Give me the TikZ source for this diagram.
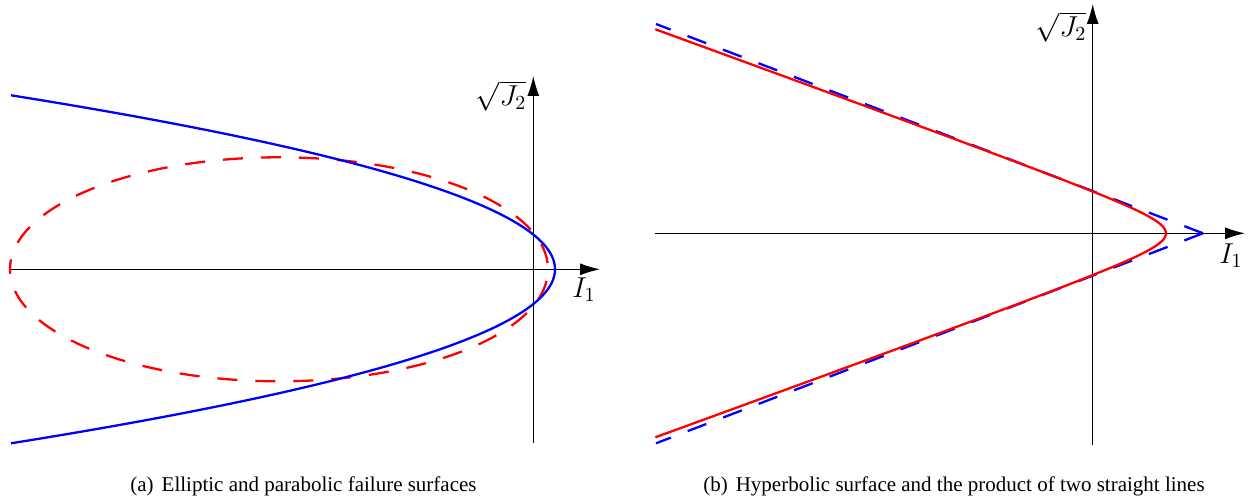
\documentclass[tikz,border=0pt]{standalone}
\usepackage{fontspec}
\usetikzlibrary{arrows.meta}
\newfontfamily\capfont{Liberation Serif}
\begin{document}
\begin{tikzpicture}[x=0.5pt,y=-0.5pt,
  axis/.style={draw=black,line width=0.55pt,-{Latex[length=10pt,width=6pt]}},
  curve/.style={line width=1.15pt},
  dashcurve/.style={line width=1.15pt,dash pattern=on 10pt off 9pt},
  lbl/.style={inner sep=0pt,font=\fontsize{14}{16}\selectfont},
  captxt/.style={inner sep=0pt,anchor=base,font=\capfont\fontsize{10.5}{12}\selectfont}]
\useasboundingbox (0,0) rectangle (1253,501);
% ---------- (a) ----------
\coordinate (aL) at (10,269.3);
\coordinate (aR) at (600,269.3);
\coordinate (aB) at (533.3,443);
\coordinate (aT) at (533.3,76);
\draw[axis] (aL) -- (aR);
\draw[axis] (aB) -- (aT);
\coordinate (eL) at (10,269.3);
\draw[red,dashcurve,dash phase=5pt] (eL) arc[start angle=180,end angle=-180,x radius=134.5pt,y radius=56pt];
\draw[blue,curve] plot[domain=-174:174,samples=120,smooth] ({555-544*(\x/174)^2},{269.3+\x});
\node[lbl] (aJ) at (501,96) {$\sqrt{J_2}$};
\node[lbl] (aI) at (584,290) {$I_1$};
\node[captxt] (capa) at (303.5,492) {(a)\hspace{4pt}Elliptic and parabolic failure surfaces};
% ---------- (b) ----------
\coordinate (bL) at (655,233.3);
\coordinate (bR) at (1245,233.3);
\coordinate (bB) at (1092.7,445);
\coordinate (bT) at (1092.7,4);
\draw[axis] (bL) -- (bR);
\draw[axis] (bB) -- (bT);
\coordinate (p1) at (656,24);
\coordinate (p2) at (1203,233.3);
\coordinate (p3) at (656,443.3);
\draw[blue,dashcurve] (p2) -- (p1);
\draw[blue,dashcurve] (p2) -- (p3);
\draw[red,curve] plot[domain=-204:204,samples=160,smooth] ({1219.7-53.7*sqrt(1+(\x/19.5)^2)},{233.3+\x});
\node[lbl] (bJ) at (1061,27) {$\sqrt{J_2}$};
\node[lbl] (bI) at (1231,256) {$I_1$};
\node[captxt] (capb) at (954,492) {(b)\hspace{4pt}Hyperbolic surface and the product of two straight lines};
\end{tikzpicture}
\end{document}
